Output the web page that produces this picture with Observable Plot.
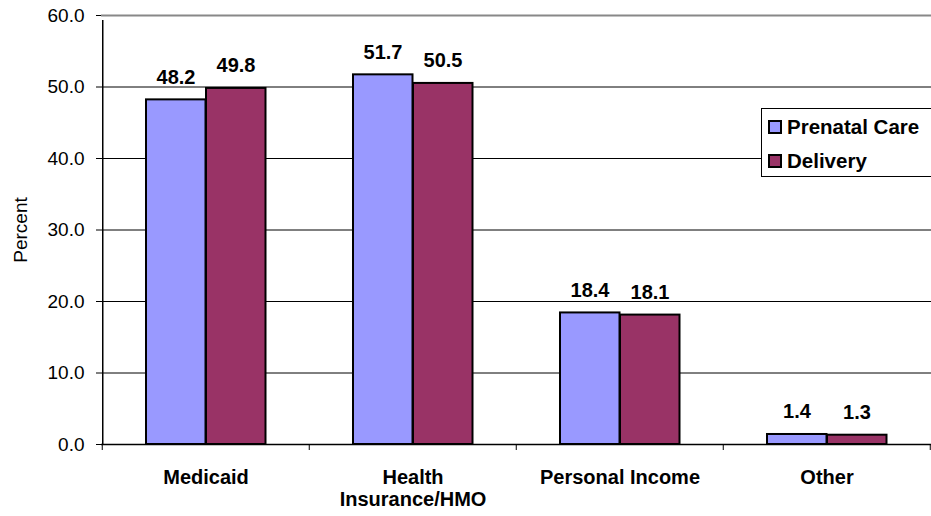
<!DOCTYPE html>
<html>
<head>
<meta charset="utf-8">
<script src="https://cdn.jsdelivr.net/npm/d3@7"></script>
<script src="https://cdn.jsdelivr.net/npm/@observablehq/plot@0.6"></script>
<style>
  html, body { margin: 0; padding: 0; background: #fff; }
  #wrap { position: relative; width: 931px; height: 516px; font-family: "Liberation Sans", Arial, sans-serif; }
  #legend { position: absolute; left: 761px; top: 108px; width: 180px; height: 69px; background: #fff;
            border: 1px solid #000; box-sizing: border-box; }
  .li { position: absolute; left: 6px; font-weight: bold; font-size: 20.5px; line-height: 22px; color: #000; white-space: nowrap; }
  .sw { display: inline-block; width: 10px; height: 10px; border: 2px solid #000; vertical-align: 0px; margin-right: 5px; }
</style>
</head>
<body>
<div id="wrap"></div>
<script>
const categories = ["Medicaid", "Health Insurance/HMO", "Personal Income", "Other"];
const categoryLabels = ["Medicaid", "Health\nInsurance/HMO", "Personal Income", "Other"];
const seriesNames = ["Prenatal Care", "Delivery"];
const prenatalCare = [48.2, 51.7, 18.4, 1.4];
const delivery = [49.8, 50.5, 18.1, 1.3];
const yTicks = [0, 10, 20, 30, 40, 50, 60];
const colors = ["#9999FF", "#993366"];

const prenatalData = categories.map((c, i) => ({category: c, value: prenatalCare[i]}));
const deliveryData = categories.map((c, i) => ({category: c, value: delivery[i]}));

const W = 931, H = 516;
const labelMap = new Map(categories.map((c, i) => [c, categoryLabels[i]]));

const chart = Plot.plot({
  width: W,
  height: H,
  marginLeft: 101,
  marginRight: 0,
  marginTop: 15,
  marginBottom: 72,
  style: {fontFamily: "Liberation Sans, Arial, sans-serif", fontSize: "19px", color: "#000", background: "#fff"},
  x: {domain: categories, padding: 0},
  y: {domain: [0, 60]},
  marks: [
    Plot.ruleY(yTicks.filter(t => t > 0 && t < 60), {stroke: "#000", strokeWidth: 1}),
    Plot.ruleY([60], {stroke: "#888", strokeWidth: 2}),
    Plot.barY(prenatalData, {x: "category", y: "value", fill: colors[0], stroke: "#000", strokeWidth: 2, insetLeft: 44, insetRight: 103.5}),
    Plot.barY(deliveryData, {x: "category", y: "value", fill: colors[1], stroke: "#000", strokeWidth: 2, insetLeft: 104, insetRight: 43.5}),
    Plot.text(prenatalData, {x: "category", y: "value", text: d => d.value.toFixed(1), dx: -30, dy: -16, lineAnchor: "bottom", fontWeight: "bold", fontSize: 20}),
    Plot.text(deliveryData, {x: "category", y: "value", text: d => d.value.toFixed(1), dx: 30, dy: -16, lineAnchor: "bottom", fontWeight: "bold", fontSize: 20}),
    Plot.ruleY([0], {stroke: "#000", strokeWidth: 1.5}),
    Plot.ruleX(categories, {x: d => d, dx: -103.75, y1: 0, y2: 0, insetBottom: -6, stroke: "#000"}),
    Plot.ruleX([categories[categories.length - 1]], {x: d => d, dx: 103.25, y1: 0, y2: 0, insetBottom: -6, stroke: "#000"}),
    Plot.ruleX([categories[0]], {x: d => d, dx: -103.25, y1: 0, y2: 60, insetBottom: -5, stroke: "#000", strokeWidth: 1.5}),
    Plot.axisY({ticks: yTicks, tickFormat: d => d.toFixed(1), tickSize: 5, tickPadding: 12, fontSize: 19,
                label: "Percent", labelAnchor: "center", labelArrow: "none", labelOffset: 88}),
    Plot.axisX({tickSize: 0, tickPadding: 24, tickFormat: d => labelMap.get(d), fontWeight: "bold", fontSize: 20, lineHeight: 1.1, label: null})
  ]
});

const wrap = document.getElementById("wrap");
wrap.appendChild(chart);
const legend = document.createElement("div");
legend.id = "legend";
seriesNames.forEach((name, i) => {
  const item = document.createElement("div");
  item.className = "li";
  item.style.top = (7 + i * 34) + "px";
  const sw = document.createElement("span");
  sw.className = "sw";
  sw.style.background = colors[i];
  item.appendChild(sw);
  item.appendChild(document.createTextNode(name));
  legend.appendChild(item);
});
wrap.appendChild(legend);
</script>
</body>
</html>
